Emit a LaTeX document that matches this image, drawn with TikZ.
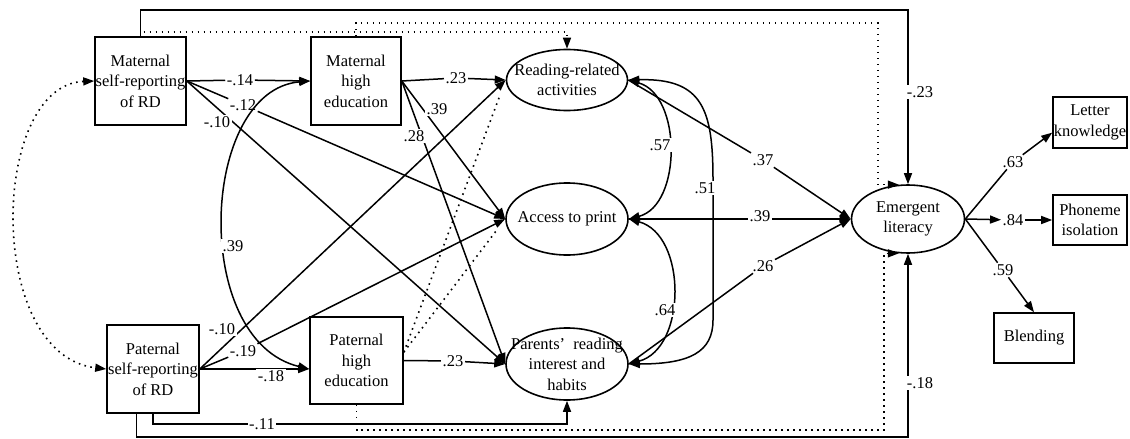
\documentclass[tikz,border=0pt]{standalone}
\usepackage{fontspec}
\setmainfont{Liberation Serif}
\usetikzlibrary{arrows.meta,shapes.geometric}
\newcommand\dgfont{\fontsize{16.5}{20.5}\selectfont}
\begin{document}
\begin{tikzpicture}[x=1pt,y=-1pt,
  box/.style={draw,line width=1.6pt,rectangle,inner sep=0pt},
  ell/.style={draw,line width=1.6pt,ellipse,inner sep=0pt},
  txt/.style={align=center,font=\dgfont,inner sep=0pt},
  num/.style={font=\dgfont,inner sep=1.5pt},
  numw/.style={num,fill=white},
  >={Triangle[length=11pt,width=8pt]},
  arr/.style={line width=1.5pt,->},
  arrb/.style={line width=1.5pt,<->},
  dotl/.style={line width=1.6pt,dash pattern=on 1.6pt off 4.4pt},
]
\useasboundingbox (0,0) rectangle (1130,439);

% observed / latent variables
\node[box,minimum width=91pt,minimum height=88pt,label={[txt]center:Maternal\\self-reporting\\of RD}] (MS) at (140.5,81) {};
\node[box,minimum width=90pt,minimum height=88pt,label={[txt]center:Maternal\\high\\education}] (MH) at (356,81) {};
\node[box,minimum width=92pt,minimum height=88pt,label={[txt]center:Paternal\\self-reporting\\of RD}] (PS) at (153,369) {};
\node[box,minimum width=93pt,minimum height=87pt,label={[txt]center:Paternal\\high\\education}] (PH) at (356.5,360.5) {};
\node[box,minimum width=74pt,minimum height=51pt,label={[txt]center:Letter\\knowledge}] (LK) at (1090,122.5) {};
\node[box,minimum width=74pt,minimum height=50pt,label={[txt]center:Phoneme\\isolation}] (PI) at (1090,220) {};
\node[box,minimum width=80pt,minimum height=50pt,label={[txt]center:Blending}] (BL) at (1034,338) {};
\node[ell,minimum width=121pt,minimum height=61pt,label={[txt]center:Reading-related\\activities}] (RRA) at (567,80) {};
\node[ell,minimum width=122pt,minimum height=72pt,label={[txt]center:Access to print}] (AP) at (567,219) {};
\node[ell,minimum width=122pt,minimum height=72pt,label={[txt]center:Parents'~~reading\\interest and\\habits}] (PRI) at (567,364) {};
\node[ell,minimum width=113pt,minimum height=68pt,label={[txt]center:Emergent\\literacy}] (EL) at (908,219) {};

% labels that sit in a gap of their connector
\node[num] (l14) at (240,80) {-.14};
\node[num] (l12) at (243,105) {-.12};
\node[num] (l23a) at (456,78) {.23};
\node[num] (l19) at (243,351) {-.19};
\node[num] (l23b) at (453,361) {.23};
\node[num] (l11) at (262,424) {-.11};
\node[num] (l37) at (763,160) {.37};
\node[num] (l26) at (763,266) {.26};
\node[num] (l63) at (1013,162) {.63};
\node[num] (l84) at (1013,220) {.84};
\node[num] (l59) at (1003,270) {.59};

\coordinate (d1) at (878,23);
\coordinate (d2) at (884,430);
\coordinate (b1) at (908,437);

% maternal self-reporting
\draw[arr] (MS.east) -- (l14) -- (MH.west);
\draw[arr] (MS.east) -- (l12) -- (AP.west);
\draw[arr] (MS.east) -- (PRI.west);
\draw[arr] (MS.north) -- ++(0,-26) -| (EL.north);
\draw[dotl,->] (MS.north) ++(3,-4) -| (RRA.north);
% maternal education
\draw[arr] (MH.east) -- (l23a) -- (RRA.west);
\draw[arr] (MH.east) -- (AP.west);
\draw[arr] (MH.east) -- (PRI.west);
\draw[dotl,->] (MH.north) |- (d1) |- (EL.105);
% paternal self-reporting
\draw[arr] (PS.east) -- (RRA.west);
\draw[arr] (PS.east) -- (l19) -- (AP.west);
\draw[arr] (PS.east) -- (PS.east -| PH.west);
\draw[arr] (PS.south) |- (l11) -| (PRI.south);
\draw[arr] (PS.250) |- (b1) -- (EL.south);
% paternal education
\draw[arr] (PH.east) -- (l23b) -- (PRI.west);
\draw[dotl,shorten >=17pt] (PH.10) -- (RRA.west);
\draw[dotl,shorten >=14pt] (PH.10) -- (AP.west);
\draw[dotl,->] (PH.south) |- (d2) |- (EL.255);
% covariances
\draw[arrb] (MH.west) .. controls (200,90) and (190,340) .. (PS.east -| PH.west);
\draw[dotl,<->] (MS.west) .. controls (-10,85) and (-15,355) .. (PS.west);
\draw[arrb] (RRA.east) .. controls (682,95) and (682,205) .. (AP.east);
\draw[arrb] (AP.east) .. controls (687,235) and (687,348) .. (PRI.east);
\draw[arrb] (RRA.east) .. controls (703,78) and (713,110) .. (713,180) -- (713,320) .. controls (713,352) and (690,364) .. (PRI.east);
% to emergent literacy
\draw[arr] (RRA.east) -- (l37) -- (EL.west);
\draw[arr] (AP.east) -- (EL.west);
\draw[arr] (PRI.east) -- (l26) -- (EL.west);
% indicators
\draw[arr] (EL.east) -- (l63) -- (LK.195);
\draw[arr] (EL.east) -- (l84);
\draw[arr] (l84) -- (PI.west);
\draw[arr] (EL.east) -- (l59) -- (BL.north);

% labels beside their connector
\node[numw] at (217,122) {-.10};
\node[numw] at (437,109) {.39};
\node[numw] at (414,136) {.28};
\node[numw] at (222,329) {-.10};
\node[numw] at (271,376) {-.18};
\node[numw] at (233,246) {.39};
\node[numw] at (660,145) {.57};
\node[numw] at (665,310) {.64};
\node[numw] at (705,188) {.51};
\node[numw] at (920,92) {-.23};
\node[numw] at (920,383) {-.18};
\node[numw] at (760,216) {.39};
\end{tikzpicture}
\end{document}
